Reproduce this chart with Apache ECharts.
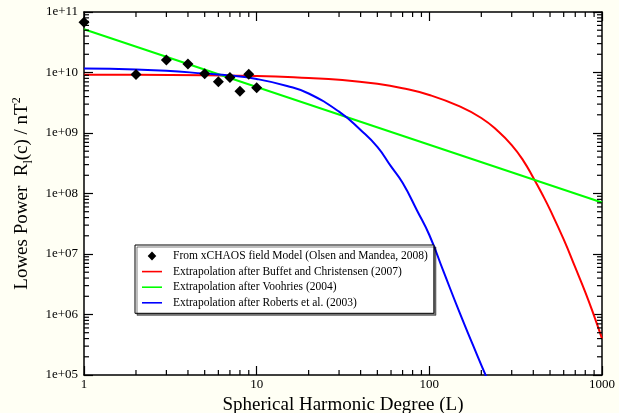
<!DOCTYPE html>
<html>
<head>
<meta charset="utf-8">
<script src="https://cdn.jsdelivr.net/npm/echarts@6/dist/echarts.min.js"></script>
<style>
html,body{margin:0;padding:0;background:#fffff4;}
#c{width:619px;height:413px;}
</style>
</head>
<body>
<div id="c"></div>
<script>
// ---- data ----
const obsDegree = [1, 2, 3, 4, 5, 6, 7, 8, 9, 10];
const obsPower  = [6.8e10, 9.3e9, 1.61e10, 1.38e10, 9.5e9, 7.0e9, 8.3e9, 4.9e9, 9.4e9, 5.6e9];

const buffettDegree = [1, 2, 5, 10, 20, 30, 50, 70, 100, 150, 200, 250, 300, 350, 400, 450, 500, 600, 700, 800, 900, 1000];
const buffettPower  = [9.2e9, 9.18e9, 9.0e9, 8.75e9, 8.1e9, 7.6e9, 6.5e9, 5.5e9, 4.25e9, 2.75e9, 1.77e9, 1.07e9, 6.3e8, 3.5e8, 1.82e8, 9.8e7, 5.4e7, 1.74e7, 6.0e6, 2.35e6, 9.5e5, 4.0e5];

const voorhiesDegree = [1, 1000];
const voorhiesPower  = [5.2e10, 7.1e7];

const robertsDegree = [1, 2, 3, 5, 7, 10, 15, 20, 30, 40, 50, 60, 70, 85, 100, 120, 150, 180, 200, 215];
const robertsPower  = [1.16e10, 1.12e10, 1.07e10, 9.6e9, 8.9e9, 7.8e9, 6.0e9, 4.5e9, 2.25e9, 1.12e9, 5.9e8, 2.8e8, 1.5e8, 5.2e7, 2.06e7, 5.4e6, 1.06e6, 3.0e5, 1.46e5, 9.0e4];

const seriesNames = [
  'From xCHAOS field Model (Olsen and Mandea, 2008)',
  'Extrapolation after Buffet and Christensen (2007)',
  'Extrapolation after Voohries (2004)',
  'Extrapolation after Roberts et al. (2003)'
];

const xRange = [1, 1000];
const yRange = [1e5, 1e11];
const xMinorTicks = [2,3,4,5,6,7,8,9, 20,30,40,50,60,70,80,90, 200,300,400,500,600,700,800,900];
const yMinorTicks = [];
[1e5, 1e6, 1e7, 1e8, 1e9, 1e10].forEach(function (d) {
  [2,3,4,5,6,7,8,9].forEach(function (m) { yMinorTicks.push(m * d); });
});

// ---- chart ----
const zip = (a, b) => a.map((v, i) => [v, b[i]]);
const FONT = 'Liberation Serif';
const black = '#000';

function majorAxis(pos, showLabel, extra) {
  return Object.assign({
    position: pos,
    axisLine: {show: true, onZero: false, lineStyle: {color: black, width: 1.5}},
    axisTick: {show: true, inside: true, length: 9, lineStyle: {color: black, width: 1.2}},
    axisLabel: {show: showLabel, color: black, fontFamily: FONT, fontSize: 13},
    splitLine: {show: false},
    minorTick: {show: false}
  }, extra);
}

// minor tick marks on all four frame sides, placed through the axes' own log scales
function minorTickSeries(values, dim) {
  return {
    type: 'custom', silent: true, z: 10, clip: false,
    data: values.map(v => dim === 'x' ? [v, yRange[0]] : [xRange[0], v]),
    encode: {x: 0, y: 1},
    renderItem: function (params, api) {
      const cs = params.coordSys;
      const p = api.coord([api.value(0), api.value(1)]);
      const len = 5;
      const st = {stroke: '#000', lineWidth: 1.2};
      if (dim === 'x') {
        const x = p[0];
        return {type: 'group', children: [
          {type: 'line', shape: {x1: x, y1: cs.y + cs.height, x2: x, y2: cs.y + cs.height - len}, style: st},
          {type: 'line', shape: {x1: x, y1: cs.y, x2: x, y2: cs.y + len}, style: st}
        ]};
      }
      const y = p[1];
      return {type: 'group', children: [
        {type: 'line', shape: {x1: cs.x, y1: y, x2: cs.x + len, y2: y}, style: st},
        {type: 'line', shape: {x1: cs.x + cs.width, y1: y, x2: cs.x + cs.width - len, y2: y}, style: st}
      ]};
    }
  };
}

const lineIcon = 'path://M0,0 M26,10 M0,4.2 L20,4.2 L20,5.8 L0,5.8 Z';
const diamondIcon = 'path://M0,0 M26,10 M10,0.6 L14.3,5 L10,9.4 L5.7,5 Z';

const option = {
  backgroundColor: '#fffff4',
  animation: false,
  grid: {left: 84, right: 17, top: 12, bottom: 38, show: true, backgroundColor: '#ffffff',
         borderWidth: 0, outerBoundsMode: 'none'},
  legend: {
    orient: 'vertical', left: 135, top: 245,
    padding: [5, 6, 4.5, 7],
    itemGap: 3.6, itemWidth: 26, itemHeight: 10,
    backgroundColor: '#ffffff', borderColor: '#000', borderWidth: 1,
    shadowColor: 'rgba(0,0,0,0.5)', shadowOffsetX: 2, shadowOffsetY: 2, shadowBlur: 0,
    selectedMode: false,
    itemStyle: {borderWidth: 0, opacity: 1},
    textStyle: {fontFamily: FONT, fontSize: 11.5, color: black},
    data: [
      {name: seriesNames[0], icon: diamondIcon},
      {name: seriesNames[1], icon: lineIcon},
      {name: seriesNames[2], icon: lineIcon},
      {name: seriesNames[3], icon: lineIcon}
    ]
  },
  xAxis: [
    majorAxis('bottom', true, {
      type: 'log', logBase: 10, min: xRange[0], max: xRange[1],
      name: 'Spherical Harmonic Degree (L)', nameLocation: 'middle', nameGap: 18,
      nameTextStyle: {fontFamily: FONT, fontSize: 19, color: black},
      axisLabel: {show: true, color: black, fontFamily: FONT, fontSize: 13, margin: 3,
                  formatter: v => String(Math.round(v))}
    }),
    majorAxis('top', false, {type: 'log', logBase: 10, min: xRange[0], max: xRange[1]})
  ],
  yAxis: [
    majorAxis('left', true, {
      type: 'log', logBase: 10, min: yRange[0], max: yRange[1],
      name: '{a|Lowes Power  R}{sub|l}{a|(c) / nT}{sup|2}',
      nameLocation: 'middle', nameGap: 46, nameRotate: 90,
      nameTextStyle: {
        fontFamily: FONT, fontSize: 19, color: black,
        rich: {
          a: {fontFamily: FONT, fontSize: 19, color: black, lineHeight: 24, verticalAlign: 'middle'},
          sub: {fontFamily: FONT, fontSize: 12, color: black, lineHeight: 12, verticalAlign: 'bottom'},
          sup: {fontFamily: FONT, fontSize: 12, color: black, lineHeight: 12, verticalAlign: 'top'}
        }
      },
      axisLabel: {show: true, color: black, fontFamily: FONT, fontSize: 13, margin: 6,
                  formatter: function (v) {
                    const e = Math.round(Math.log10(v));
                    return '1e+' + (e < 10 ? '0' + e : String(e));
                  }}
    }),
    majorAxis('right', false, {type: 'log', logBase: 10, min: yRange[0], max: yRange[1]})
  ],
  series: [
    {name: seriesNames[1], type: 'line',
     data: zip(buffettDegree, buffettPower), symbol: 'none', smooth: 0.5,
     lineStyle: {color: '#ff0000', width: 2}, itemStyle: {color: '#ff0000'}, z: 2},
    {name: seriesNames[2], type: 'line',
     data: zip(voorhiesDegree, voorhiesPower), symbol: 'none',
     lineStyle: {color: '#00ff00', width: 2}, itemStyle: {color: '#00ff00'}, z: 2},
    {name: seriesNames[3], type: 'line',
     data: zip(robertsDegree, robertsPower), symbol: 'none', smooth: 0.5,
     lineStyle: {color: '#0000ff', width: 2}, itemStyle: {color: '#0000ff'}, z: 2},
    {name: seriesNames[0], type: 'scatter',
     data: zip(obsDegree, obsPower), symbol: 'diamond', symbolSize: 11,
     itemStyle: {color: '#000', opacity: 1}, z: 5},
    minorTickSeries(xMinorTicks, 'x'),
    minorTickSeries(yMinorTicks, 'y')
  ]
};

const chart = echarts.init(document.getElementById('c'), null, {renderer: 'canvas'});
chart.setOption(option);
</script>
</body>
</html>
